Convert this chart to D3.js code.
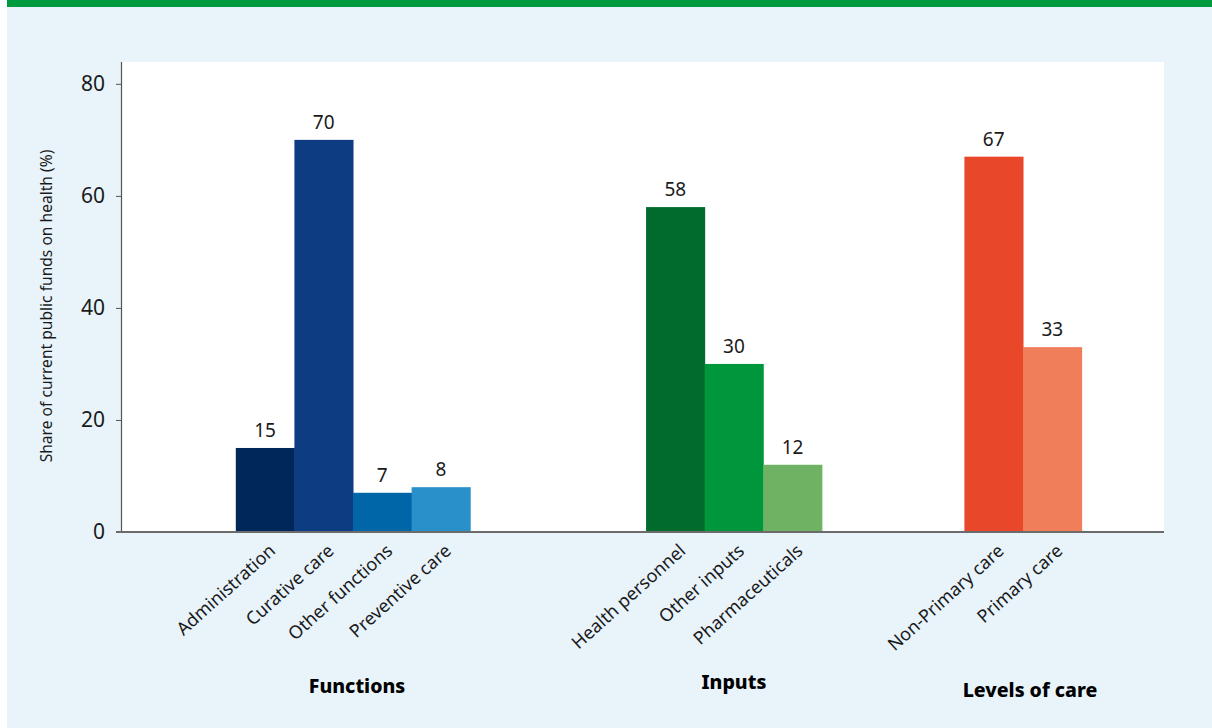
<!DOCTYPE html>
<html>
<head>
<meta charset="utf-8">
<script src="https://cdn.jsdelivr.net/npm/d3@7"></script>
<style>
  html, body { margin: 0; padding: 0; background: #ffffff; }
  svg { display: block; font-family: "Noto Sans", "Open Sans", sans-serif; }
</style>
</head>
<body>
<svg id="chart" width="1212" height="728"></svg>
<script>
// ---- data ----
const groups = ["Functions", "Inputs", "Levels of care"];
const functionsCats = ["Administration", "Curative care", "Other functions", "Preventive care"];
const functionsVals = [15, 70, 7, 8];
const inputsCats = ["Health personnel", "Other inputs", "Pharmaceuticals"];
const inputsVals = [58, 30, 12];
const levelsCats = ["Non-Primary care", "Primary care"];
const levelsVals = [67, 33];
const yTicks = [0, 20, 40, 60, 80];
const yTitle = "Share of current public funds on health (%)";

const functionsColors = ["#00275A", "#0E3C82", "#0066A8", "#2990CA"];
const inputsColors = ["#006B2C", "#00963C", "#70B263"];
const levelsColors = ["#E8472A", "#F07E5A"];

const series = [
  { group: groups[0], cats: functionsCats, vals: functionsVals, colors: functionsColors, center: 0.2217, labelDy: 161, labelDx: 4 },
  { group: groups[1], cats: inputsCats, vals: inputsVals, colors: inputsColors, center: 0.5873, labelDy: 157, labelDx: 0 },
  { group: groups[2], cats: levelsCats, vals: levelsVals, colors: levelsColors, center: 0.8647, labelDy: 165, labelDx: 7 }
];

// ---- layout ----
const svg = d3.select("#chart");
const W = 1212, H = 728;
const plot = { left: 122, right: 1164, top: 62, bottom: 532 };
const pw = plot.right - plot.left;
const barFrac = 58.6 / pw;

svg.append("rect").attr("x", 7).attr("y", 0).attr("width", W - 7).attr("height", H).attr("fill", "#E8F3FA");
svg.append("rect").attr("x", 7).attr("y", 0).attr("width", W - 7).attr("height", 7).attr("fill", "#009A3E");
svg.append("rect").attr("x", plot.left).attr("y", plot.top).attr("width", pw).attr("height", plot.bottom - plot.top).attr("fill", "#ffffff");

const y = d3.scaleLinear().domain([0, 83.9]).range([plot.bottom, plot.top]);
const xOuter = d3.scaleLinear().domain([0, 1]).range([plot.left, plot.right]);

// y axis
const yAxis = svg.append("g").attr("transform", `translate(${plot.left},0)`)
  .call(d3.axisLeft(y).tickValues(yTicks).tickSize(6).tickPadding(11).tickFormat(d3.format("d")));
yAxis.select(".domain").attr("stroke", "#555").attr("stroke-width", 1.2).attr("d", `M-0.5,${plot.top}V${plot.bottom}`);
yAxis.selectAll(".tick line").attr("stroke", "#555");
yAxis.selectAll(".tick text").attr("font-size", 21).attr("fill", "#1a1a1a").attr("font-family", "Noto Sans");

svg.append("text")
  .attr("transform", `translate(52,${(plot.top + plot.bottom) / 2 + 9}) rotate(-90)`)
  .attr("text-anchor", "middle")
  .attr("font-size", 15.6)
  .attr("fill", "#1a1a1a")
  .text(yTitle);

// bars
series.forEach(s => {
  const c = xOuter(s.center);
  const half = s.cats.length * barFrac * pw / 2;
  const x = d3.scaleBand().domain(s.cats).range([c - half, c + half]).padding(0);
  const data = s.cats.map((k, i) => ({ k, v: s.vals[i], col: s.colors[i] }));
  const g = svg.append("g");
  g.selectAll("rect").data(data).join("rect")
    .attr("x", d => x(d.k)).attr("width", x.bandwidth() + 0.5)
    .attr("y", d => y(d.v)).attr("height", d => y(0) - y(d.v))
    .attr("fill", d => d.col);
  g.selectAll("text.val").data(data).join("text")
    .attr("class", "val")
    .attr("x", d => x(d.k) + x.bandwidth() / 2)
    .attr("y", d => y(d.v) - 11)
    .attr("text-anchor", "middle")
    .attr("font-size", 19)
    .attr("fill", "#1a1a1a")
    .text(d => d.v);
  // rotated category labels
  g.selectAll("text.cat").data(data).join("text")
    .attr("class", "cat")
    .attr("transform", d => `translate(${x(d.k) + x.bandwidth() / 2 + 3},${plot.bottom + 11}) rotate(-42)`)
    .attr("text-anchor", "end")
    .attr("dy", "0.7em")
    .attr("font-size", 18)
    .attr("fill", "#1a1a1a")
    .text(d => d.k);
  // group label
  svg.append("text")
    .attr("x", c + s.labelDx)
    .attr("y", plot.bottom + s.labelDy)
    .attr("text-anchor", "middle")
    .attr("font-size", 19.5)
    .attr("font-weight", 800)
    .attr("fill", "#000")
    .text(s.group);
});

// x axis baseline
svg.append("line")
  .attr("x1", plot.left - 6).attr("x2", plot.right)
  .attr("y1", y(0)).attr("y2", y(0))
  .attr("stroke", "#6b6b6b").attr("stroke-width", 2);
</script>
</body>
</html>
